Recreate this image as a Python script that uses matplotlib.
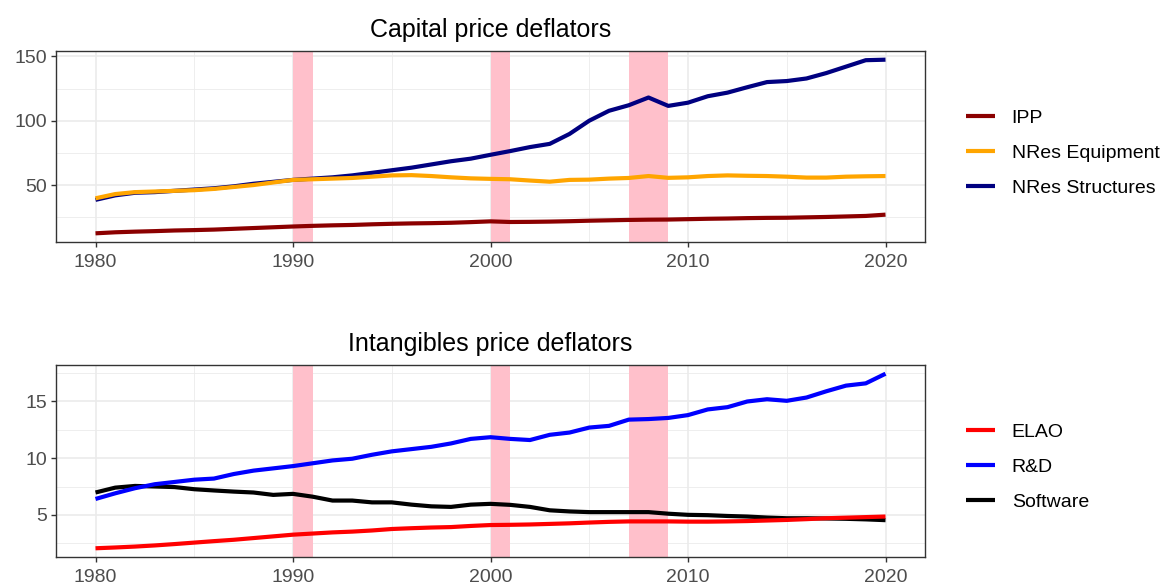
import numpy as np
import matplotlib
matplotlib.use("Agg")
import matplotlib.pyplot as plt

plt.rcParams["font.family"] = ["Liberation Sans", "DejaVu Sans"]

years = list(range(1980, 2021))

# Capital price deflators
ipp = [12.5, 13.3, 13.8, 14.2, 14.7, 15.0, 15.4, 16.0, 16.6, 17.2,
       17.8, 18.3, 18.7, 19.0, 19.5, 19.9, 20.2, 20.4, 20.7, 21.2,
       21.8, 21.3, 21.4, 21.6, 21.9, 22.3, 22.6, 22.9, 23.1, 23.2,
       23.5, 23.8, 24.0, 24.3, 24.5, 24.6, 24.9, 25.2, 25.6, 26.0,
       27.0]
nres_equip = [39.7, 43.0, 44.5, 45.0, 45.5, 46.0, 47.0, 48.5, 50.0, 52.0,
              54.0, 54.5, 55.0, 55.5, 56.5, 57.5, 57.7, 57.0, 56.0, 55.2,
              54.8, 54.5, 53.5, 52.6, 54.0, 54.2, 55.0, 55.5, 57.0, 55.6,
              56.0, 57.0, 57.5, 57.2, 57.0, 56.5, 55.8, 55.8, 56.5, 56.8,
              57.0]
nres_struct = [38.5, 42.0, 44.0, 44.5, 45.5, 46.5, 47.5, 49.0, 51.0, 52.5,
               54.0, 55.0, 56.0, 57.5, 59.5, 61.5, 63.5, 66.0, 68.5, 70.5,
               73.5, 76.4, 79.5, 82.0, 89.7, 100.0, 107.7, 112.0, 118.0, 111.5,
               114.0, 119.0, 121.8, 126.0, 130.0, 130.8, 132.8, 137.0, 142.0, 147.0,
               147.4]

# Intangibles price deflators
elao = [2.05, 2.12, 2.2, 2.3, 2.42, 2.55, 2.68, 2.8, 2.95, 3.1,
        3.25, 3.35, 3.45, 3.52, 3.62, 3.75, 3.82, 3.88, 3.92, 4.02,
        4.1, 4.12, 4.15, 4.2, 4.25, 4.32, 4.38, 4.42, 4.42, 4.42,
        4.4, 4.4, 4.42, 4.45, 4.5, 4.55, 4.62, 4.7, 4.75, 4.8,
        4.85]
rnd = [6.4, 6.9, 7.35, 7.7, 7.9, 8.1, 8.2, 8.6, 8.9, 9.1,
       9.3, 9.55, 9.8, 9.95, 10.3, 10.6, 10.8, 11.0, 11.3, 11.7,
       11.85, 11.7, 11.6, 12.06, 12.26, 12.7, 12.85, 13.4, 13.45, 13.55,
       13.8, 14.3, 14.5, 15.0, 15.2, 15.06, 15.35, 15.9, 16.4, 16.6,
       17.45]
software = [6.97, 7.4, 7.55, 7.5, 7.45, 7.26, 7.15, 7.05, 6.97, 6.76,
            6.85, 6.6, 6.26, 6.26, 6.1, 6.1, 5.9, 5.75, 5.7, 5.9,
            5.97, 5.88, 5.7, 5.4, 5.3, 5.24, 5.24, 5.24, 5.24, 5.1,
            5.0, 4.97, 4.9, 4.85, 4.76, 4.7, 4.7, 4.68, 4.65, 4.6,
            4.53]

recessions = [(1990, 1991), (2000, 2001), (2007, 2009)]

W, H = 1170, 586
fig = plt.figure(figsize=(W / 100, H / 100), dpi=100)
ax1 = fig.add_axes([56 / W, 1 - 242 / H, 869 / W, 191 / H])
ax2 = fig.add_axes([56 / W, 1 - 557 / H, 869 / W, 192 / H])


def style(ax, major_y, minor_y, title):
    ax.set_axisbelow(True)
    ax.set_xticks(range(1980, 2021, 10))
    ax.set_xticks(range(1985, 2020, 10), minor=True)
    ax.set_yticks(major_y)
    ax.set_yticks(minor_y, minor=True)
    ax.grid(which="major", color="#EBEBEB", lw=1.2)
    ax.grid(which="minor", color="#EBEBEB", lw=0.6)
    ax.tick_params(which="major", direction="out", length=3.5, width=1,
                   color="#333333", labelcolor="#4D4D4D", labelsize=14, pad=3)
    ax.tick_params(axis="x", which="major", pad=5)
    ax.tick_params(which="minor", length=0)
    for s in ax.spines.values():
        s.set_color("#333333")
        s.set_linewidth(1)
    ax.set_title(title, fontsize=18, color="black", pad=10)


def panel(ax, series, legend_y):
    for a, b in recessions:
        ax.axvspan(a, b, color="#FFC0CB", lw=0, zorder=1)
    handles = {}
    for label, vals, col in reversed(series):
        h, = ax.plot(years, vals, color=col, lw=3, zorder=2,
                     solid_capstyle="butt")
        handles[label] = h
    ax.legend([handles[s[0]] for s in series], [s[0] for s in series],
              loc="center left", bbox_to_anchor=(966 / W, legend_y),
              bbox_transform=fig.transFigure, frameon=False, fontsize=14,
              borderpad=0, borderaxespad=0, handlelength=1.5,
              handletextpad=0.85, labelspacing=0.9)


panel(ax1, [("IPP", ipp, "#8B0000"),
            ("NRes Equipment", nres_equip, "#FFA500"),
            ("NRes Structures", nres_struct, "#000080")], 1 - 153 / H)
panel(ax2, [("ELAO", elao, "#FF0000"),
            ("R&D", rnd, "#0000FF"),
            ("Software", software, "#000000")], 1 - 467 / H)

style(ax1, [50, 100, 150], [25, 75, 125], "Capital price deflators")
style(ax2, [5, 10, 15], [2.5, 7.5, 12.5, 17.5], "Intangibles price deflators")

fig.savefig("out.png", dpi=100)
